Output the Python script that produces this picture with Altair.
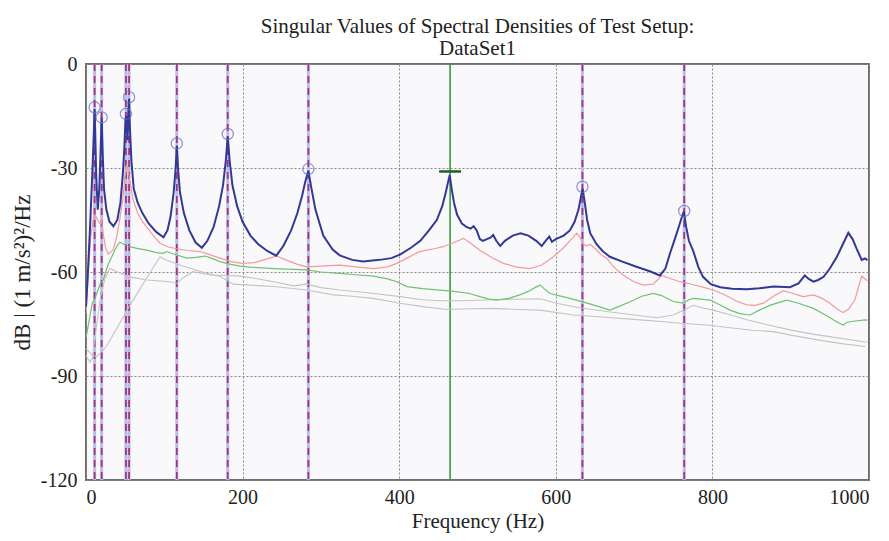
import altair as alt
import pandas as pd

# ---------------- data ----------------
title_lines = ["Singular Values of Spectral Densities of Test Setup:", "DataSet1"]
x_ticks = [0, 200, 400, 600, 800, 1000]
y_ticks = [0, -30, -60, -90, -120]

sv1_freq = [0, 2, 5, 8, 10, 11, 12, 13, 15, 17, 18.5, 20, 21.5, 23, 26, 30, 35, 40, 44, 47, 49, 50.5, 51.5, 53, 54, 55, 56, 58, 61, 66, 72, 80, 90, 99, 104, 108, 112, 114.5, 116, 117.5, 120, 125, 132, 140, 148, 155, 163, 170, 175, 178.5, 181, 183.5, 187, 193, 200, 210, 220, 232, 243, 252, 262, 270, 276, 280, 284, 288, 293, 303, 315, 324, 340, 354, 375, 390, 401, 415, 427, 438, 448, 455, 459, 462, 464.5, 467, 470, 474, 480, 486, 491, 495, 499, 503, 507, 512, 517, 520, 524, 529, 535, 545, 555, 565, 575, 582, 587, 591.7, 595, 600, 610, 618, 624, 629, 632, 634.3, 637, 640, 644, 652, 660, 669, 685, 703, 720, 733, 740, 746, 752, 757, 760.5, 763.5, 766.5, 770, 775.6, 782, 788, 798, 810, 825, 844, 860, 878, 899, 910, 918, 923, 929, 935, 942, 950, 959, 966, 973.6, 979, 984, 990.7, 995, 998]
sv1_db = [-70, -62, -48, -32, -20, -13, -22, -32, -42, -36, -26, -15.5, -27, -36, -42, -45.5, -46.8, -45, -40, -32, -24, -16, -15, -22, -14, -10, -18, -28, -36, -40, -43, -46, -48.5, -50, -48, -44, -37, -30, -23.5, -30, -37, -43, -48, -51.5, -53, -51, -47, -41, -35, -28, -21, -28, -35, -41, -45.5, -49.5, -52, -54, -55.3, -52.5, -48, -43, -38, -34, -30.8, -36, -42, -49.5, -53.5, -55.2, -56.5, -57, -56.5, -56, -55, -53, -51, -48, -45, -41, -37.5, -34.5, -32, -36, -40, -43.5, -46, -47, -47.5, -46.8, -48, -50.5, -51, -50.5, -50, -49.3, -51, -52.5, -51, -49.5, -48.8, -49.5, -51, -52.5, -51, -49.8, -51.3, -50.5, -49.5, -48, -45.5, -42, -38.5, -36, -40, -45, -48.8, -52, -54, -55.6, -57, -58.5, -59.8, -61, -59, -54.5, -50.5, -47, -44.5, -42.6, -47, -51, -54, -58.5, -61.4, -63.5, -64.4, -64.8, -65, -64.7, -64.2, -64.4, -63.3, -61, -62, -62.8, -62.3, -61.4, -59, -55.6, -52.3, -48.7, -50.5, -53.2, -56.5, -56.1, -56.6]

sv2_freq = [0, 3, 6, 9, 11.5, 15, 18, 20, 22, 25, 28.5, 32, 35, 39, 43, 47, 50, 52, 54, 57, 60, 66, 72, 77.5, 86, 94.5, 105, 116, 130, 145.6, 158, 171, 185, 200, 215, 230, 243.5, 255, 270, 282, 300, 324, 345, 367, 385, 397, 410, 425, 435, 445, 456, 470, 482, 490, 503, 518, 533, 550, 567, 582, 597, 610, 620, 626.7, 631, 634, 639, 644, 650, 658, 665, 672, 678, 690, 700, 712, 724, 730, 735, 745, 758.6, 775, 790, 801, 815, 830, 843.8, 855, 865, 878, 890.5, 903, 916, 929, 940, 950, 960, 967, 974, 982, 987, 990.7, 995, 998]
sv2_db = [-72, -60, -50, -45, -43.5, -45, -46, -45, -49, -53, -54.8, -54.2, -53.5, -50, -45, -39, -32, -29, -31, -35, -39, -43, -45.5, -47, -49.5, -51.7, -52.8, -53.3, -53.8, -54.1, -55, -56, -57, -57.5, -57.3, -56.3, -55.4, -56.5, -57.8, -58.5, -58.3, -58, -58.5, -59, -58.5, -57.5, -56, -54.2, -53.7, -53.3, -52.7, -51.5, -50.3, -51.5, -53.7, -55.8, -57.5, -58.6, -59, -58, -55.6, -53, -50.5, -48.8, -50, -51.7, -52.5, -52, -53.2, -55, -56, -58, -59.4, -61.5, -62.8, -63.8, -63.5, -62.3, -61, -61.8, -62.8, -63.6, -64.5, -65.2, -66.5, -68.3, -69.5, -69.6, -69, -67, -65.4, -66.2, -67.1, -66.6, -67.6, -69, -70.8, -71.7, -70.7, -68, -64, -61.2, -62, -62.5]

sv3_freq = [0, 4, 8, 11.5, 14, 18, 22, 28, 35, 40, 43.4, 48, 56, 65, 77.5, 90, 98.7, 103, 112, 128.6, 140, 152, 160, 171, 185, 196.7, 210, 240, 282, 300, 324, 345, 367, 385, 397, 410, 430, 452, 470, 490, 503, 515, 524.5, 540, 554, 565, 575, 580, 585, 592.6, 605, 618, 640, 655, 669, 680, 695, 710, 724.5, 735, 750, 763, 770, 775.6, 785, 797, 810, 822.5, 835, 848, 860, 875, 895, 910, 929, 945, 958, 967, 972, 980, 995, 998]
sv3_db = [-79, -74, -69, -67.6, -66, -63.5, -62.3, -58, -54.6, -52.3, -51.4, -52, -52.7, -53.2, -53.7, -54.4, -54.6, -54.1, -54.8, -56, -55.8, -55.4, -56, -57, -57.8, -58.3, -58.6, -59, -59.4, -60, -60.4, -60.8, -61.2, -62, -62.8, -64.2, -64.8, -65.2, -65.6, -66.2, -67.1, -67.8, -68.1, -67.6, -66.6, -65.6, -64.3, -63.8, -64.8, -66.2, -66.9, -67.6, -69, -70, -71, -70, -68.6, -67, -66.2, -66.8, -68.5, -69, -68, -67.6, -67.8, -68.1, -69.5, -71, -72, -72.4, -71, -69.5, -68.1, -69, -70.5, -72.5, -74.3, -75.3, -74.5, -74.2, -73.8, -73.9]

sv4_freq = [0, 8, 13.7, 20, 26, 40, 55, 70, 85, 94.5, 100, 110, 120, 140, 162.6, 180, 196.7, 215, 240, 265, 282, 300, 324, 360, 401, 430, 452, 480, 520, 560, 580, 601, 630, 665, 700, 729, 750, 765, 775.6, 788, 801, 820, 844, 870, 899, 930, 960, 993, 998]
sv4_db = [-82, -84, -84.4, -83, -81.5, -76, -70, -64.5, -59, -55.6, -56.3, -57.2, -58, -59.4, -60.9, -61, -61.2, -61.8, -62.8, -64, -63.5, -64.5, -65.2, -66, -67.1, -68, -68.3, -68.3, -68, -67.8, -67.7, -69, -70.3, -71.4, -72.4, -73.2, -72.4, -70.8, -69.6, -70.4, -71, -72.2, -73.8, -75.2, -76.7, -78, -79, -80.1, -80.2]

sv5_freq = [0, 5, 8, 12, 18, 24, 30.6, 40, 56, 77.5, 95, 107, 116, 125, 137, 150, 171, 188, 209.5, 240, 282, 316, 340, 367, 401, 430, 461, 490, 520, 550, 580, 622, 660, 707.5, 735, 758.6, 793, 820, 850, 878, 900, 940, 970, 995]
sv5_db = [-84, -86, -85, -78, -68, -62, -58.9, -60, -61.4, -62.3, -62.6, -62.8, -63.3, -61.5, -59.9, -60.5, -61.2, -63.5, -63.8, -64.2, -65.2, -66.6, -67, -67.6, -69, -70, -70.8, -70.6, -70.5, -70.8, -71, -72.4, -73, -73.8, -74.3, -74.8, -75.3, -76, -76.8, -77.2, -78.2, -79.8, -80.8, -81.5]

peak_freq = [11, 20, 51, 55, 116, 181, 284, 634, 764]
peak_db = [-12.5, -15.4, -14.4, -9.6, -22.9, -20.2, -30.3, -35.4, -42.4]

selected_freq = [465]
selected_db = [-31]
selected_halfwidth = [14]

# ---------------- chart ----------------
FONT = "Liberation Serif"
xscale = alt.Scale(domain=[0, 1000], nice=False, zero=False)
yscale = alt.Scale(domain=[-120, 0], nice=False, zero=False)

X = alt.X("f:Q", scale=xscale,
          axis=alt.Axis(values=x_ticks, title="Frequency (Hz)", grid=True, gridDash=[2, 2],
                        gridColor="#8a8a8a", gridWidth=1, domain=False, ticks=False,
                        labelExpr="'' + datum.value",
                        labelPadding=7, titlePadding=3, labelFont=FONT, titleFont=FONT,
                        labelFontSize=20, titleFontSize=21, titleFontWeight="normal",
                        labelColor="#222", titleColor="#222"))
Y = alt.Y("db:Q", scale=yscale,
          axis=alt.Axis(values=y_ticks, title="dB | (1 m/s²)²/Hz", grid=True, gridDash=[2, 2],
                        gridColor="#8a8a8a", gridWidth=1, domain=False, ticks=False,
                        labelExpr="'' + datum.value",
                        labelPadding=9, titlePadding=6, labelFont=FONT, titleFont=FONT,
                        labelFontSize=20, titleFontSize=23, titleFontWeight="normal",
                        labelColor="#222", titleColor="#222"))


def series(freq, db, color, width):
    df = pd.DataFrame({"f": freq, "db": db})
    return alt.Chart(df).mark_line(color=color, strokeWidth=width, clip=True).encode(x=X, y=Y)


peaks_df = pd.DataFrame({"f": peak_freq, "db": peak_db})
sel_df = pd.DataFrame({"f": selected_freq, "db": selected_db, "hw": selected_halfwidth})
sel_df["f1"] = sel_df["f"] - sel_df["hw"]
sel_df["f2"] = sel_df["f"] + sel_df["hw"]

vbase = alt.Chart(peaks_df).mark_rule(color="#b7bdea", strokeWidth=3).encode(x=X)
vdash = alt.Chart(peaks_df).mark_rule(color="#a8357a", strokeWidth=1.8, strokeDash=[7, 5]).encode(x="f:Q")
sel_line = alt.Chart(sel_df).mark_rule(color="#3c9c3c", strokeWidth=1.6).encode(x="f:Q")
sel_tick = alt.Chart(sel_df).mark_rule(color="#1f5f2a", strokeWidth=2.5).encode(x="f1:Q", x2="f2:Q", y="db:Q")
circles = alt.Chart(peaks_df).mark_point(shape="circle", size=125, filled=False,
                                         color="#6c6cc0", strokeWidth=1.3).encode(x="f:Q", y="db:Q")

chart = alt.layer(
    vbase, vdash, sel_line,
    series(sv5_freq, sv5_db, "#c4c4c4", 1.1),
    series(sv4_freq, sv4_db, "#c4c4c4", 1.1),
    series(sv3_freq, sv3_db, "#72c072", 1.2),
    series(sv2_freq, sv2_db, "#f29a9a", 1.2),
    series(sv1_freq, sv1_db, "#323896", 2.0),
    sel_tick, circles,
).properties(
    width=783, height=416,
    title=alt.TitleParams(title_lines, font=FONT, fontSize=21, fontWeight="normal",
                          color="#222", anchor="middle", offset=-5, lineHeight=22),
    autosize=alt.AutoSizeParams(type="none"),
    padding={"left": 86, "top": 64, "right": 20, "bottom": 61},
).configure_view(fill="#f9f9fb", stroke="#6e6e6e", strokeWidth=2)

chart.save("out.html", embed_options={"renderer": "svg", "actions": False})
